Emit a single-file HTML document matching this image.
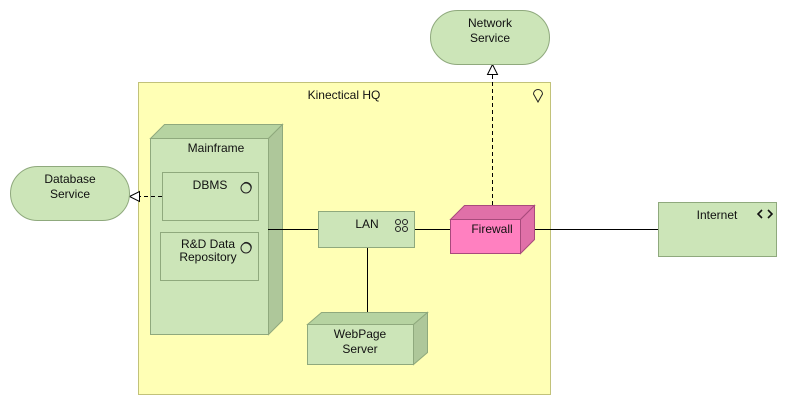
<!DOCTYPE html>
<html><head><meta charset="utf-8"><style>body{margin:0;background:#fff}svg{display:block}text{font-family:"Liberation Sans",sans-serif;font-size:12px;fill:#111}</style></head><body>
<svg width="788" height="405" viewBox="0 0 788 405">
<rect x="138.5" y="82.5" width="412" height="312" fill="#ffffb5" stroke="#c2c27a"/>
<text x="344" y="99" text-anchor="middle">Kinectical HQ</text>
<path d="M538 102 L533.5 94 A4.5 4.5 0 1 1 542.5 94 Z" fill="none" stroke="#222"/>
<!-- Mainframe -->
<polygon points="150.5,138.5 164.5,124.5 282.5,124.5 268.5,138.5" fill="#b6d3a1" stroke="#8fa97d"/>
<polygon points="268.5,138.5 282.5,124.5 282.5,320.5 268.5,334.5" fill="#aec79a" stroke="#8fa97d"/>
<rect x="150.5" y="138.5" width="118" height="196" fill="#cce5b8" stroke="#8fa97d"/>
<text x="216" y="152" text-anchor="middle">Mainframe</text>
<rect x="162.5" y="172.5" width="96" height="48" fill="#cce5b8" stroke="#8fa97d"/>
<text x="210" y="189" text-anchor="middle">DBMS</text>
<circle cx="246" cy="188" r="5" fill="none" stroke="#222"/><path d="M244 183 A5 5 0 0 1 251 189" fill="none" stroke="#222"/>
<rect x="160.5" y="232.5" width="98" height="48" fill="#cce5b8" stroke="#8fa97d"/>
<text x="208" y="248" text-anchor="middle">R&amp;D Data</text><text x="208" y="261" text-anchor="middle">Repository</text>
<circle cx="246" cy="248" r="5" fill="none" stroke="#222"/><path d="M244 243 A5 5 0 0 1 251 249" fill="none" stroke="#222"/>
<!-- connectors -->
<g stroke="#000" fill="none">
<line x1="268" y1="229.5" x2="318" y2="229.5"/>
<line x1="414" y1="229.5" x2="450" y2="229.5"/>
<line x1="534" y1="229.5" x2="658" y2="229.5"/>
<line x1="367.5" y1="247" x2="367.5" y2="312"/>
<line x1="162" y1="196.5" x2="137" y2="196.5" stroke-dasharray="4,3"/>
<line x1="492.5" y1="205" x2="492.5" y2="74" stroke-dasharray="4,3"/>
</g>
<polygon points="129.5,196.5 139.5,191.5 139.5,201.5" fill="#fff" stroke="#000"/>
<polygon points="492.5,64.5 487.5,74.5 497.5,74.5" fill="#fff" stroke="#000"/>
<!-- LAN -->
<rect x="318.5" y="211.5" width="96" height="36" fill="#cce5b8" stroke="#8fa97d"/>
<text x="367" y="228" text-anchor="middle">LAN</text>
<g fill="none" stroke="#222"><circle cx="398" cy="222" r="2.5"/><circle cx="405" cy="222" r="2.5"/><circle cx="398" cy="229" r="2.5"/><circle cx="405" cy="229" r="2.5"/></g>
<!-- WebPage Server -->
<polygon points="307.5,324.5 321.5,312.5 427.5,312.5 413.5,324.5" fill="#b6d3a1" stroke="#8fa97d"/>
<polygon points="413.5,324.5 427.5,312.5 427.5,352.5 413.5,364.5" fill="#aec79a" stroke="#8fa97d"/>
<rect x="307.5" y="324.5" width="106" height="40" fill="#cce5b8" stroke="#8fa97d"/>
<text x="360" y="338" text-anchor="middle">WebPage</text><text x="360" y="353" text-anchor="middle">Server</text>
<!-- Firewall -->
<polygon points="450.5,219.5 464.5,205.5 534.5,205.5 520.5,219.5" fill="#e070a8" stroke="#a84a7c"/>
<polygon points="520.5,219.5 534.5,205.5 534.5,239.5 520.5,253.5" fill="#e070a8" stroke="#a84a7c"/>
<rect x="450.5" y="219.5" width="70" height="34" fill="#ff80c0" stroke="#a84a7c"/>
<text x="492" y="233" text-anchor="middle">Firewall</text>
<!-- Internet -->
<rect x="658.5" y="202.5" width="118" height="54" fill="#cce5b8" stroke="#8fa97d"/>
<text x="717" y="219" text-anchor="middle">Internet</text>
<path d="M762 210 L758 214 L762 218 M768 210 L772 214 L768 218" fill="none" stroke="#111" stroke-width="1.6"/>
<!-- services -->
<rect x="430.5" y="10.5" width="119" height="54" rx="27" fill="#cce5b8" stroke="#8fa97d"/>
<text x="490" y="27" text-anchor="middle">Network</text><text x="490" y="42" text-anchor="middle">Service</text>
<rect x="10.5" y="166.5" width="119" height="54" rx="27" fill="#cce5b8" stroke="#8fa97d"/>
<text x="70" y="183" text-anchor="middle">Database</text><text x="70" y="198" text-anchor="middle">Service</text>
</svg>
</body></html>
